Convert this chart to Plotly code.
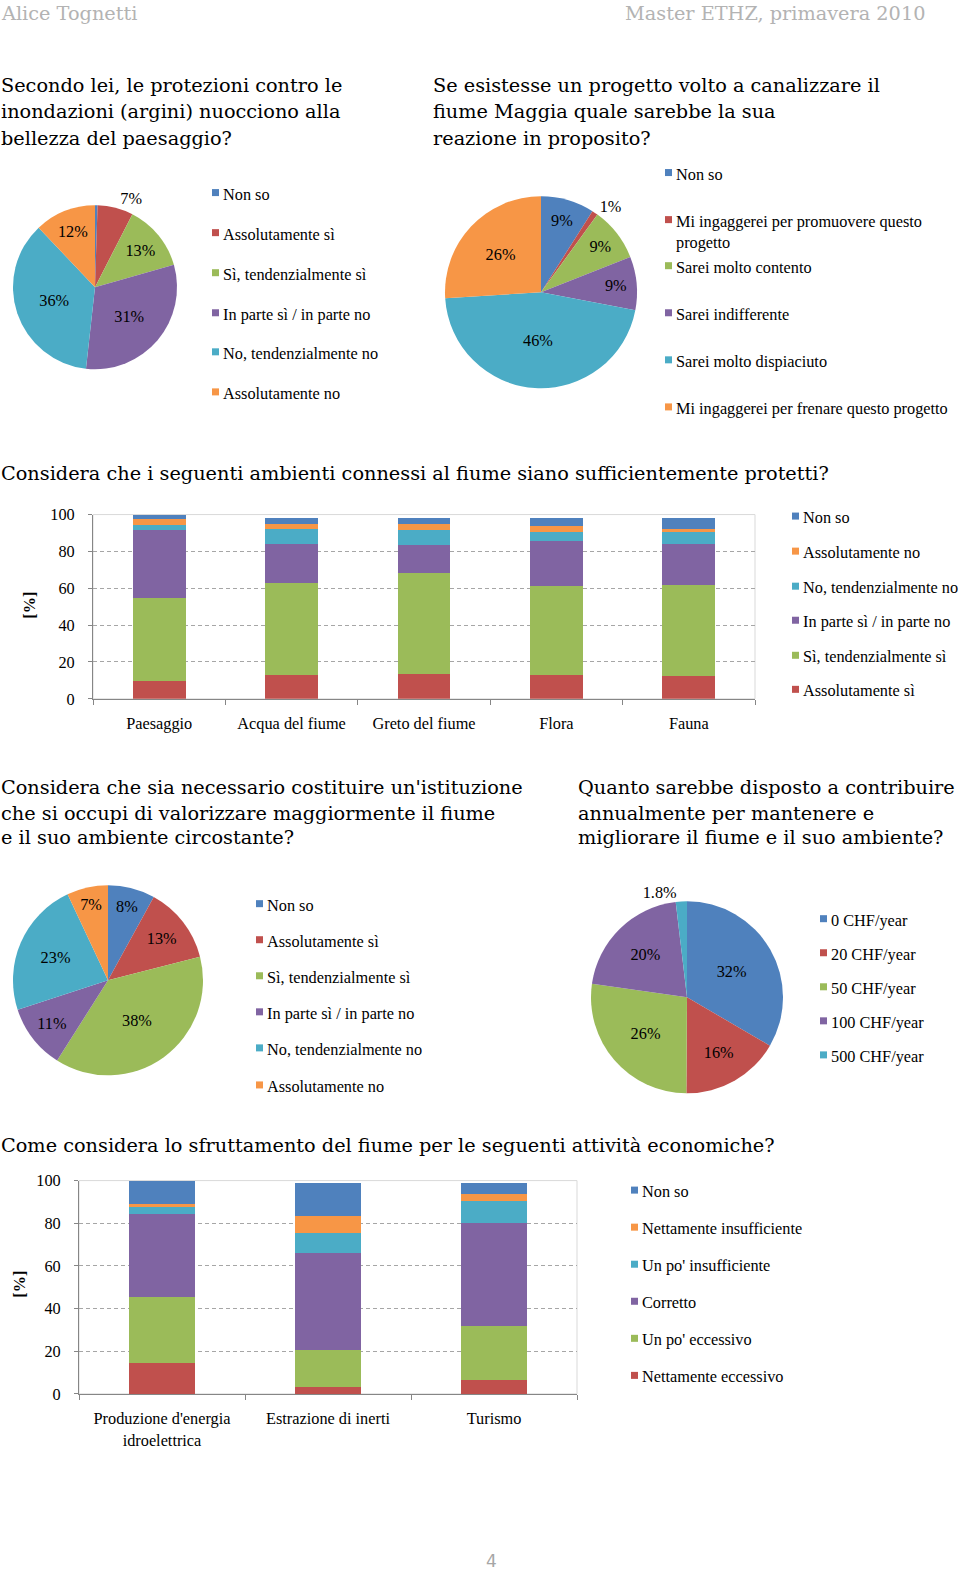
import plotly.graph_objects as go

W, H = 960, 1571
# measured page rendering offset: screen_y = 0.9864 * fig_y + 7.2
def X(px): return px / W
def Y(py): return 1 - ((py - 7.2) / 0.9864) / H

BLUE = '#4F81BD'; RED = '#C0504D'; GREEN = '#9BBB59'
PURPLE = '#8064A2'; CYAN = '#4BACC6'; ORANGE = '#F79646'
SERIF = 'Liberation Serif'
TSERIF = 'DejaVu Serif'

# ---------------- data ----------------
p1_labels = ["Non so", "Assolutamente sì", "Sì, tendenzialmente sì",
             "In parte sì / in parte no", "No, tendenzialmente no", "Assolutamente no"]
p1_values = [0.5, 7, 13, 31, 36, 12]

p2_labels = ["Non so", "Mi ingaggerei per promuovere questo progetto", "Sarei molto contento",
             "Sarei indifferente", "Sarei molto dispiaciuto", "Mi ingaggerei per frenare questo progetto"]
p2_values = [9, 1, 9, 9, 46, 26]

p3_labels = ["Non so", "Assolutamente sì", "Sì, tendenzialmente sì",
             "In parte sì / in parte no", "No, tendenzialmente no", "Assolutamente no"]
p3_values = [8, 13, 38, 11, 23, 7]

p4_labels = ["0 CHF/year", "20 CHF/year", "50 CHF/year", "100 CHF/year", "500 CHF/year"]
p4_values = [32, 16, 26, 20, 1.8]

b1_categories = ["Paesaggio", "Acqua del fiume", "Greto del fiume", "Flora", "Fauna"]
b1_names = ["Assolutamente sì", "Sì, tendenzialmente sì", "In parte sì / in parte no",
            "No, tendenzialmente no", "Assolutamente no", "Non so"]
b1_ass_si = [9.6, 13.2, 13.6, 13.1, 12.2]
b1_si_tend = [45.0, 49.6, 54.6, 47.9, 49.5]
b1_in_parte = [37.0, 21.0, 15.1, 24.5, 22.1]
b1_no_tend = [3.0, 8.2, 8.5, 5.2, 6.6]
b1_ass_no = [2.8, 2.7, 2.9, 2.9, 2.0]
b1_non_so = [2.3, 3.7, 3.7, 4.4, 6.0]

b2_categories = ["Produzione d'energia<br>idroelettrica", "Estrazione di inerti", "Turismo"]
b2_names = ["Nettamente eccessivo", "Un po' eccessivo", "Corretto",
            "Un po' insufficiente", "Nettamente insufficiente", "Non so"]
b2_netta_ecc = [14.7, 3.3, 6.7]
b2_po_ecc = [30.8, 17.2, 25.1]
b2_corretto = [38.7, 45.6, 48.5]
b2_po_insuff = [3.9, 9.3, 10.0]
b2_netta_insuff = [0.8, 8.1, 3.3]
b2_non_so = [10.9, 15.4, 5.1]

LS = 16.3   # label font size
TS = 19.3   # title font size

fig = go.Figure()
shapes = []
annotations = []

def txt(text, x, y, size=LS, color='black', xanchor='left', family=SERIF, **kw):
    annotations.append(dict(text=text, x=X(x), y=Y(y), xref='paper', yref='paper',
                            xanchor=xanchor, yanchor='middle', showarrow=False,
                            font=dict(family=family, size=size, color=color), **kw))

def legend(labels, colors, xsq, ys, size=LS):
    for lab, col, y in zip(labels, colors, ys):
        shapes.append(dict(type='rect', xref='paper', yref='paper',
                           x0=X(xsq), x1=X(xsq + 7), y0=Y(y + 2), y1=Y(y - 5),
                           fillcolor=col, line=dict(width=0)))
        txt(lab, xsq + 9, y, size=size)

def pie(labels, values, colors, cx, cy, r, outside_idx, hide_idx=()):
    tt, tp = [], []
    for i in range(len(values)):
        if i in hide_idx:
            tt.append(''); tp.append('none')
        elif i in outside_idx:
            tt.append('%{value}%'); tp.append('outside')
        else:
            tt.append('%{value}%'); tp.append('inside')
    fig.add_trace(go.Pie(labels=labels, values=values, sort=False, direction='clockwise',
                         rotation=0, domain=dict(x=[X(cx - r), X(cx + r)], y=[Y(cy + r), Y(cy - r)]),
                         marker=dict(colors=colors, line=dict(width=0)),
                         texttemplate=tt, textposition=tp,
                         insidetextorientation='horizontal',
                         textfont=dict(family=SERIF, size=LS, color='black'),
                         outsidetextfont=dict(family=SERIF, size=LS, color='black'),
                         showlegend=False, hoverinfo='label+percent'))

six = [BLUE, RED, GREEN, PURPLE, CYAN, ORANGE]

# ---------------- header ----------------
txt("Alice Tognetti", -1, 12, size=TS, color='#b3b3b3', family=TSERIF)
txt("Master ETHZ, primavera 2010", 927, 12, size=TS, color='#b3b3b3', xanchor='right', family=TSERIF)
txt("4", 491, 1557, size=17, color='#a6a6a6', xanchor='center', family='DejaVu Sans')

# ---------------- pie 1 ----------------
for line, y in zip(["Secondo lei, le protezioni contro le", "inondazioni (argini) nuocciono alla",
                    "bellezza del paesaggio?"], [84, 110, 137]):
    txt(line, -1, y, size=TS, family=TSERIF)
pie(p1_labels, p1_values, six, 95, 285, 82, outside_idx=(1,), hide_idx=(0,))
legend(p1_labels, six, 212, [192, 232, 272, 312, 351, 391])

# ---------------- pie 2 ----------------
for line, y in zip(["Se esistesse un progetto volto a canalizzare il", "fiume Maggia quale sarebbe la sua",
                    "reazione in proposito?"], [84, 110, 137]):
    txt(line, 431, y, size=TS, family=TSERIF)
pie(p2_labels, p2_values, six, 541, 290, 96, outside_idx=(1,))
p2_legend_text = [p2_labels[0], "Mi ingaggerei per promuovere questo", p2_labels[2],
                  p2_labels[3], p2_labels[4], p2_labels[5]]
legend(p2_legend_text, six, 665, [172, 219, 265, 312, 359, 406])
txt("progetto", 674, 240)

# ---------------- bar chart 1 ----------------
txt("Considera che i seguenti ambienti connessi al fiume siano sufficientemente protetti?", -1, 471,
    size=TS, family=TSERIF)
b1_data = [b1_ass_si, b1_si_tend, b1_in_parte, b1_no_tend, b1_ass_no, b1_non_so]
b1_colors = [RED, GREEN, PURPLE, CYAN, ORANGE, BLUE]
for name, vals, col in zip(b1_names, b1_data, b1_colors):
    fig.add_trace(go.Bar(x=b1_categories, y=vals, name=name, marker=dict(color=col, line=dict(width=0)),
                         xaxis='x', yaxis='y', showlegend=False))
legend(b1_names[::-1], b1_colors[::-1], 792, [515, 550, 585, 619, 654, 688])
txt("<b>[%]</b>", 30, 603, size=LS, xanchor='center', textangle=-90)

# ---------------- pie 3 ----------------
for line, y in zip(["Considera che sia necessario costituire un'istituzione",
                    "che si occupi di valorizzare maggiormente il fiume",
                    "e il suo ambiente circostante?"], [785, 810, 834]):
    txt(line, -1, y, size=TS, family=TSERIF)
pie(p3_labels, p3_values, six, 108, 977, 95, outside_idx=())
legend(p3_labels, six, 256, [902, 938, 974, 1010, 1046, 1083])

# ---------------- pie 4 ----------------
for line, y in zip(["Quanto sarebbe disposto a contribuire", "annualmente per mantenere e",
                    "migliorare il fiume e il suo ambiente?"], [785, 810, 834]):
    txt(line, 576, y, size=TS, family=TSERIF)
pie(p4_labels, p4_values, [BLUE, RED, GREEN, PURPLE, CYAN], 687, 994, 96, outside_idx=(4,))
legend(p4_labels, [BLUE, RED, GREEN, PURPLE, CYAN], 820, [917, 951, 985, 1019, 1053])

# ---------------- bar chart 2 ----------------
txt("Come considera lo sfruttamento del fiume per le seguenti attività economiche?", -1, 1142,
    size=TS, family=TSERIF)
b2_data = [b2_netta_ecc, b2_po_ecc, b2_corretto, b2_po_insuff, b2_netta_insuff, b2_non_so]
for name, vals, col in zip(b2_names, b2_data, b1_colors):
    fig.add_trace(go.Bar(x=b2_categories, y=vals, name=name, marker=dict(color=col, line=dict(width=0)),
                         xaxis='x2', yaxis='y2', showlegend=False))
legend(b2_names[::-1], b1_colors[::-1], 631, [1188, 1225, 1262, 1299, 1336, 1373])
txt("<b>[%]</b>", 20, 1281, size=LS, xanchor='center', textangle=-90)

tickfont = dict(family=SERIF, size=LS, color='black')
def xax(x0, x1):
    return dict(domain=[X(x0), X(x1)], type='category', showline=True, linecolor='#868686',
                ticks='outside', tickson='boundaries', ticklen=5, tickcolor='#868686',
                showgrid=False, tickfont=tickfont, ticklabelstandoff=10, fixedrange=True)
def yax(ytop, ybot, anchor):
    return dict(domain=[Y(ybot), Y(ytop)], range=[0, 100], dtick=20, showline=True,
                linecolor='#868686', ticks='outside', ticklen=4, tickcolor='#868686',
                showgrid=True, gridcolor='#a6a6a6', griddash='4px,3px', gridwidth=1,
                zeroline=False, tickfont=tickfont, ticklabelstandoff=10, anchor=anchor,
                fixedrange=True)

for xr, yr in (('x', 'y'), ('x2', 'y2')):
    shapes.append(dict(type='rect', xref=f'{xr} domain', yref=f'{yr} domain', x0=0, x1=1, y0=0, y1=1,
                       line=dict(color='#d9d9d9', width=1), layer='below'))

fig.update_layout(
    width=W, height=H, autosize=False, margin=dict(l=0, r=0, t=0, b=0),
    paper_bgcolor='white', plot_bgcolor='white', barmode='stack', bargap=0.6,
    xaxis=dict(anchor='y', **xax(93, 755)),
    yaxis=yax(512, 696, 'x'),
    xaxis2=dict(anchor='y2', **xax(79, 577)),
    yaxis2=yax(1177, 1390, 'x2'),
    shapes=shapes, annotations=annotations, showlegend=False,
)

fig.write_html("out.html")
